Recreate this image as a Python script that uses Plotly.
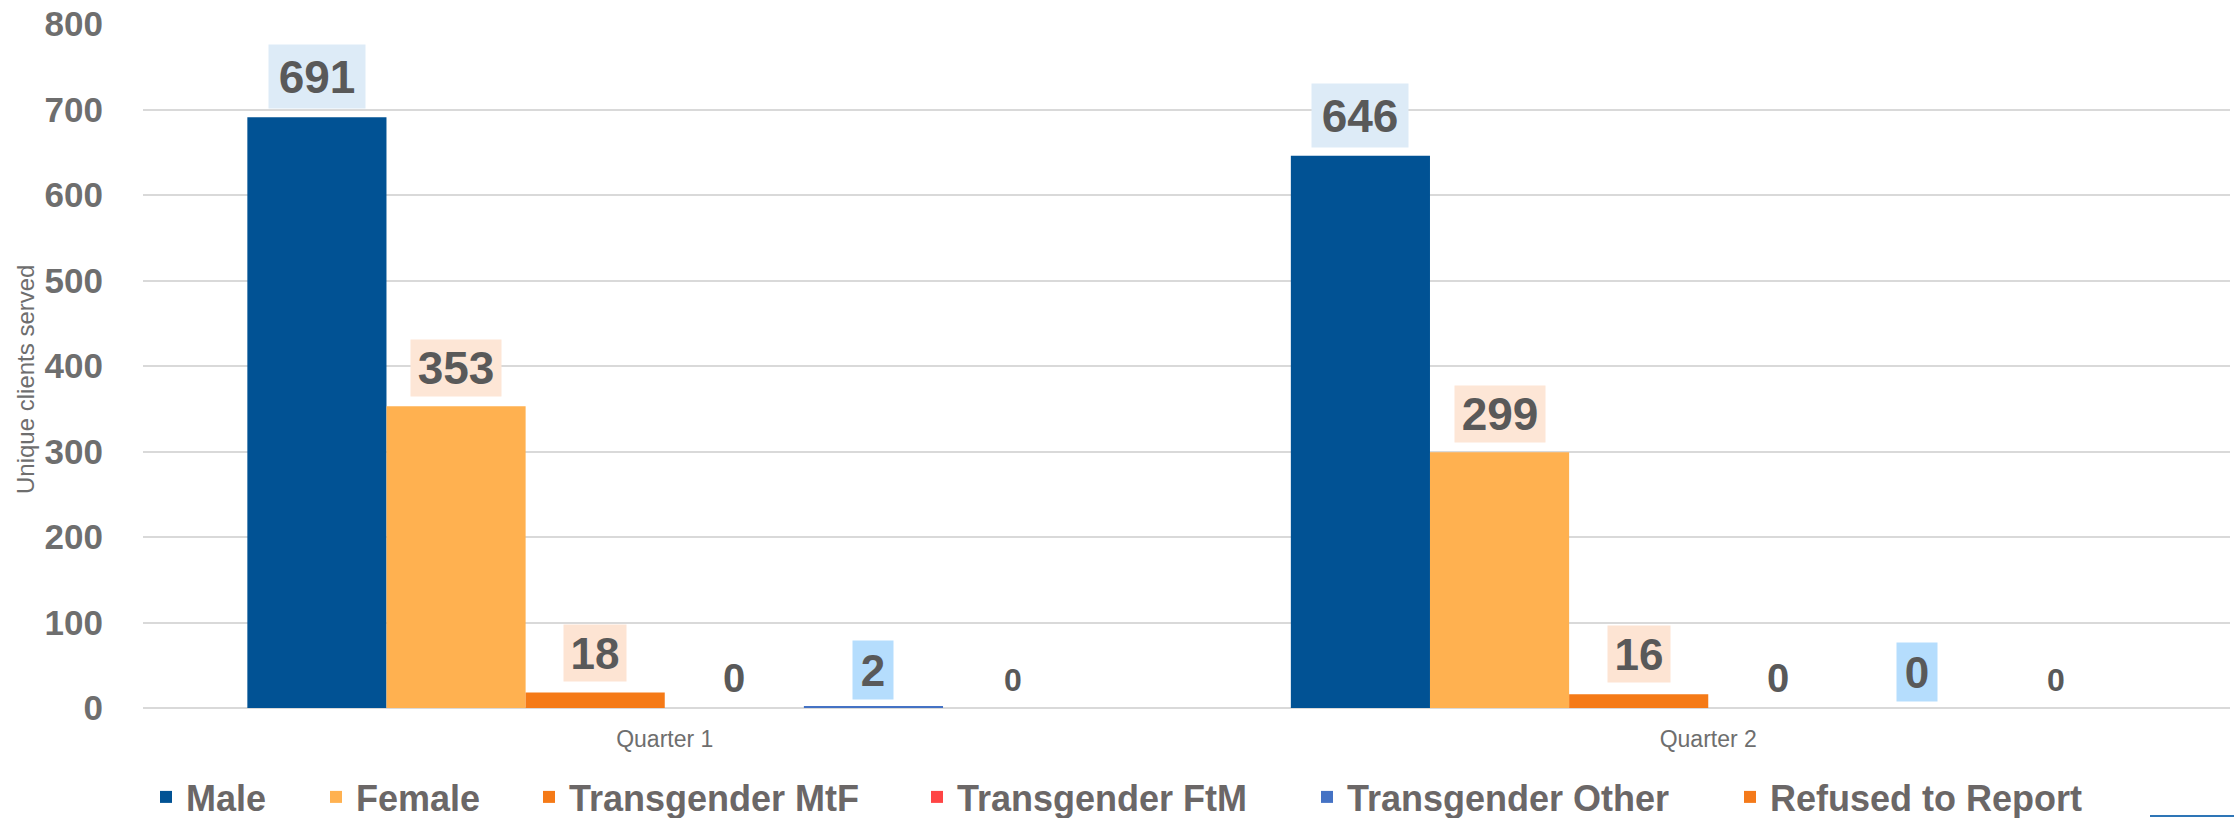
import plotly.graph_objects as go

categories = ["Quarter 1", "Quarter 2"]
series_names = ["Male", "Female", "Transgender MtF", "Transgender FtM", "Transgender Other", "Refused to Report"]
male = [691, 646]
female = [353, 299]
trans_mtf = [18, 16]
trans_ftm = [0, 0]
trans_other = [2, 0]
refused = [0, 0]
series_values = [male, female, trans_mtf, trans_ftm, trans_other, refused]
y_ticks = [0, 100, 200, 300, 400, 500, 600, 700, 800]

colors = ["#015294", "#FFB150", "#F57A17", "#FF4444", "#4472C4", "#F47A1A"]
label_bg = ["#DDEBF7", "#FDE6D6", "#FDE4D3", None, "#B5DDFD", None]
label_size = [46, 46, 44, 40, 44, 32]
label_w = [96, 90, 62, 40, 40, 40]
label_h = [63, 56, 56, 40, 58, 32]
label_shift = [8, 9, 11, 9, 6, 11]
# left edge (px) of each legend entry's text
legend_text_x = [187, 357, 570, 958, 1348, 1771]

FONT = "Liberation Sans, Arial"
bargap = 0.2
L, R, T, B, W, H = 143, 4, 24, 110, 2234, 818
PW, PH = W - L - R, H - T - B

fig = go.Figure()
legend_layouts = {}
for j, (name, vals) in enumerate(zip(series_names, series_values)):
    lg = "legend" if j == 0 else f"legend{j + 1}"
    fig.add_trace(go.Bar(
        x=categories, y=vals, name=f"<b>{name}</b>",
        marker=dict(color=colors[j], line=dict(width=0)),
        legend=lg,
    ))
    legend_layouts[lg] = dict(
        orientation="h", xanchor="left", yanchor="middle",
        x=(legend_text_x[j] - 41 - L) / PW, y=(H - B - 797) / PH,
        font=dict(family=FONT, size=36, color="#6B6767"),
        bgcolor="rgba(0,0,0,0)",
    )

n = len(series_names)
annotations = []
for j, vals in enumerate(series_values):
    for i, v in enumerate(vals):
        off = (-0.5 + (j + 0.5) / n) * (1 - bargap)
        a = dict(
            x=i + off, y=v, xref="x", yref="y",
            text=f"<b>{v}</b>", showarrow=False,
            xanchor="center", yanchor="bottom", yshift=label_shift[j],
            width=label_w[j], height=label_h[j], borderpad=0,
            font=dict(family=FONT, size=label_size[j], color="#595959"),
            valign="middle", align="center",
        )
        if label_bg[j]:
            a["bgcolor"] = label_bg[j]
        annotations.append(a)

annotations.append(dict(
    x=0, xshift=-118, y=0.5, yshift=-14, xref="paper", yref="paper",
    xanchor="center", yanchor="middle",
    text="Unique clients served", textangle=-90, showarrow=False,
    font=dict(family=FONT, size=24, color="#6E6E6E"),
))

fig.update_layout(
    width=W, height=H,
    margin=dict(l=L, r=R, t=T, b=B, autoexpand=False),
    paper_bgcolor="white", plot_bgcolor="white",
    barmode="group", bargap=bargap, bargroupgap=0,
    showlegend=True,
    annotations=annotations,
    font=dict(family=FONT),
    **legend_layouts,
)
fig.update_yaxes(
    range=[0, 800], tickvals=y_ticks, ticktext=[f"<b>{t}</b>" for t in y_ticks],
    showgrid=True, gridcolor="#D9D9D9", gridwidth=2,
    zeroline=True, zerolinecolor="#D9D9D9", zerolinewidth=2,
    showline=False, ticks="", ticklabelstandoff=39, automargin=False,
    tickfont=dict(family=FONT, size=35, color="#6E6E6E"),
)
fig.update_xaxes(
    showgrid=False, showline=False, ticks="", ticklabelstandoff=15, automargin=False,
    tickfont=dict(family=FONT, size=23, color="#6E6E6E"),
)
fig.add_shape(type="line", xref="paper", yref="paper",
              x0=(2150 - L) / PW, x1=(W - L) / PW, y0=(H - B - 816) / PH, y1=(H - B - 816) / PH,
              line=dict(color="#2E75B6", width=2))

fig.write_html(
    "out.html",
    config={"displayModeBar": False},
    post_script="document.body.style.margin='0';document.body.style.overflow='hidden';",
)
